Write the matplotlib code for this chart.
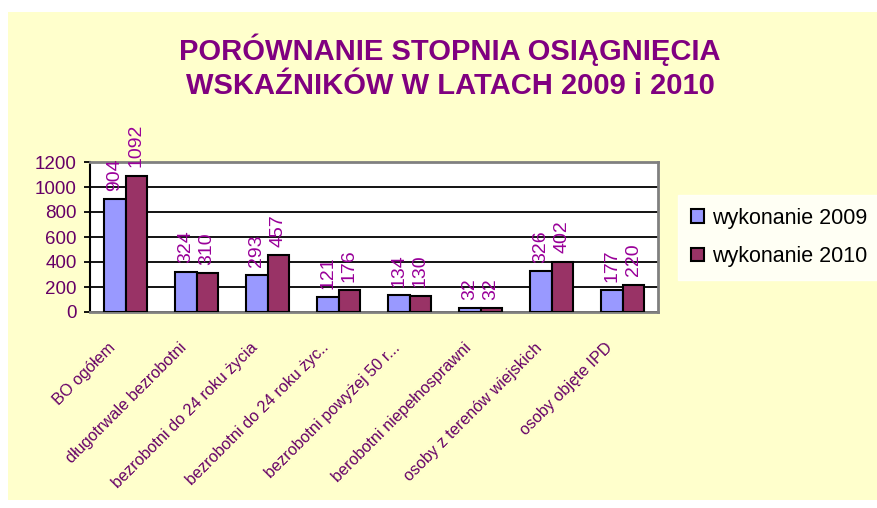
import matplotlib.pyplot as plt
import matplotlib.transforms as mtransforms
import numpy as np
from matplotlib.patches import Rectangle

categories = ['BO ogółem', 'długotrwale bezrobotni', 'bezrobotni do 24 roku życia',
              'bezrobotni do 24 roku życ..', 'bezrobotni powyżej 50 r...',
              'berobotni niepełnosprawni', 'osoby z terenów wiejskich', 'osoby objęte IPD']
val_2009 = [904, 324, 293, 121, 134, 32, 326, 177]
val_2010 = [1092, 310, 457, 176, 130, 32, 402, 220]
series_names = ['wykonanie 2009', 'wykonanie 2010']

purple = '#800080'
tick_col = '#660066'
lab_col = '#990099'

plt.rcParams['font.family'] = ['Liberation Sans', 'DejaVu Sans']

fig = plt.figure(figsize=(8.77, 5.08), dpi=100)
fig.patch.set_facecolor('white')
fig.patches.append(Rectangle((8 / 877, 8 / 508), 1 - 8 / 877, (508 - 20) / 508,
                             transform=fig.transFigure, facecolor='#FFFFCC',
                             edgecolor='none', zorder=-10))

ax = fig.add_axes([90 / 877, 1 - 312 / 508, (658 - 90) / 877, (312 - 162) / 508])
ax.set_facecolor('white')

x = np.arange(len(categories))
w = 0.3
b1 = ax.bar(x - w / 2, val_2009, w, color='#9999FF', edgecolor='black', linewidth=1.5,
            label=series_names[0], zorder=3)
b2 = ax.bar(x + w / 2, val_2010, w, color='#993366', edgecolor='black', linewidth=1.5,
            label=series_names[1], zorder=3)

for bars, vals in ((b1, val_2009), (b2, val_2010)):
    for rect, v in zip(bars, vals):
        ax.annotate(str(v), (rect.get_x() + rect.get_width() / 2, v),
                    xytext=(0, 6), textcoords='offset points', rotation=90,
                    ha='center', va='bottom', color=lab_col, fontsize=14,
                    annotation_clip=False)

ax.set_xlim(-0.5, len(categories) - 0.5)
ax.set_ylim(0, 1200)
ax.set_yticks(range(0, 1201, 200))
ax.yaxis.grid(True, color='black', linewidth=1.3, zorder=0)
ax.set_axisbelow(True)
ax.tick_params(axis='y', colors='black', labelcolor=tick_col, labelsize=13.5,
               length=4.5, width=1.3, direction='out', pad=5)
ax.tick_params(axis='x', length=0, pad=24)
ax.set_xticks(x)
ax.set_xticklabels(categories, rotation=45, ha='right', va='center', rotation_mode='anchor',
                   color=tick_col, fontsize=11.7)
shift = mtransforms.ScaledTranslation(-12 / 100, 0, fig.dpi_scale_trans)
for lab in ax.get_xticklabels():
    lab.set_transform(lab.get_transform() + shift)
for s in ('top', 'right', 'bottom'):
    ax.spines[s].set_color('#808080')
    ax.spines[s].set_linewidth(2)
ax.spines['left'].set_color('black')
ax.spines['left'].set_linewidth(1.5)

fig.text(450 / 877, 1 - 50 / 508, 'PORÓWNANIE STOPNIA OSIĄGNIĘCIA', ha='center', va='center',
         color=purple, fontsize=21, fontweight='bold')
fig.text(450 / 877, 1 - 86 / 508, 'WSKAŹNIKÓW W LATACH 2009 i 2010', ha='center', va='center',
         color=purple, fontsize=21, fontweight='bold')

leg = fig.legend(loc='upper left', bbox_to_anchor=(678 / 877, 1 - 195 / 508),
                 frameon=True, fontsize=15.5, handlelength=0.6, handleheight=0.6,
                 handletextpad=0.4, labelspacing=0.8, borderpad=0.6, fancybox=False,
                 borderaxespad=0)
leg.get_frame().set_facecolor('white')
leg.get_frame().set_edgecolor('white')

fig.savefig('out.png', dpi=100)
